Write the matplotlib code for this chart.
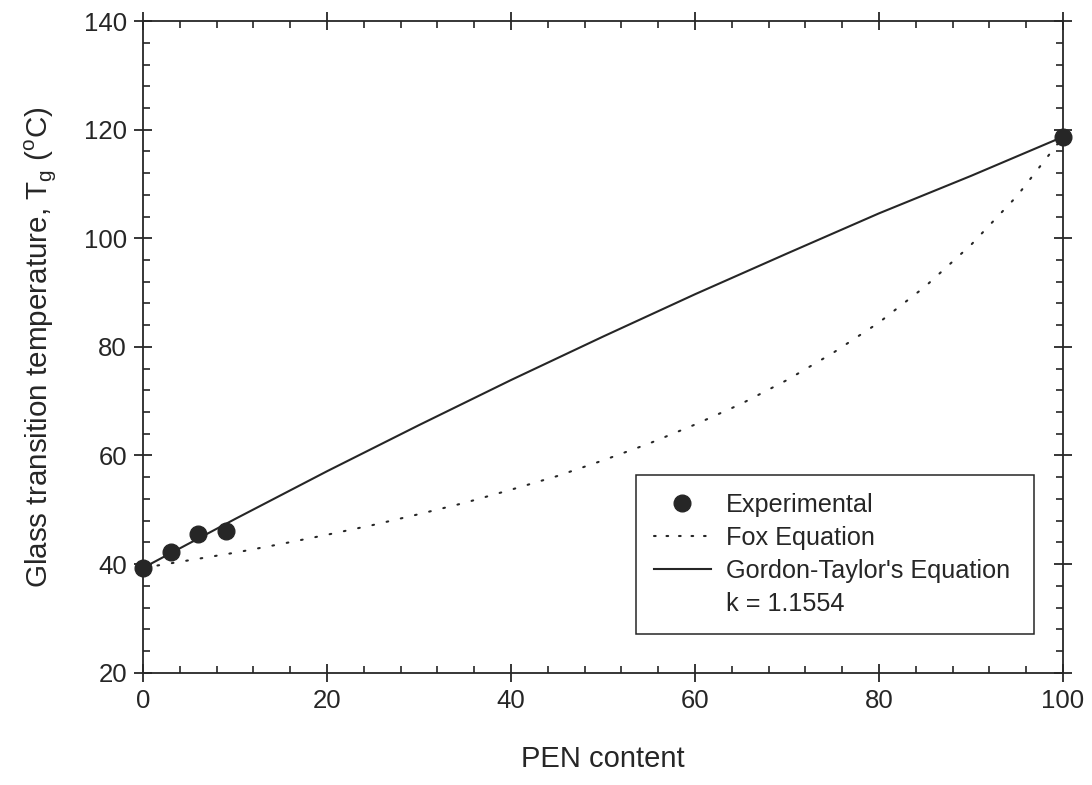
import matplotlib
matplotlib.use("Agg")
import matplotlib.pyplot as plt
from matplotlib.lines import Line2D
from matplotlib.ticker import MultipleLocator

plt.rcParams['font.family'] = ['Liberation Sans', 'DejaVu Sans']

# Experimental points (PEN content, Tg in degC)
exp_x = [0, 3, 6, 9, 100]
exp_y = [39.3, 42.3, 45.6, 46.1, 118.7]

# Gordon-Taylor curve
gt_x = [0, 10, 20, 30, 40, 50, 60, 70, 80, 90, 100]
gt_y = [39.3, 48.3, 57.1, 65.6, 73.9, 81.9, 89.7, 97.2, 104.6, 111.5, 118.7]

# Fox equation curve
fox_x = [0, 5, 10, 15, 20, 25, 30, 35, 40, 45, 50, 55, 60, 65, 70, 75, 80, 85, 90, 95, 100]
fox_y = [39.3, 40.7, 42.1, 43.7, 45.4, 47.2, 49.2, 51.3, 53.7, 56.2, 59.1, 62.2, 65.7,
         69.5, 73.9, 78.9, 84.5, 91.1, 98.8, 107.8, 118.7]

x_ticks = [0, 20, 40, 60, 80, 100]
y_ticks = [20, 40, 60, 80, 100, 120, 140]

ink = '#262626'

fig = plt.figure(figsize=(10.92, 7.85), dpi=100)
ax = fig.add_axes([0.1310, 0.1431, 0.8425, 0.8300])

ax.plot(fox_x, fox_y, color=ink, lw=1.5, linestyle=(0, (0.8, 6.2)),
        dash_capstyle='round', zorder=2)
ax.plot(gt_x, gt_y, color=ink, lw=1.5, zorder=3)
ax.plot(exp_x, exp_y, 'o', color=ink, ms=12, zorder=4, clip_on=False)

ax.set_xlim(0, 100)
ax.set_ylim(20, 140)
ax.set_xticks(x_ticks)
ax.set_yticks(y_ticks)
ax.xaxis.set_minor_locator(MultipleLocator(4))
ax.yaxis.set_minor_locator(MultipleLocator(4))

for sp in ax.spines.values():
    sp.set_linewidth(1.3)
    sp.set_color(ink)

ax.tick_params(which='major', direction='inout', length=13, width=1.3, color=ink,
               labelsize=18.5, labelcolor=ink, top=True, right=True, pad=5)
ax.tick_params(which='minor', direction='in', length=5, width=1.2, color=ink,
               top=True, right=True)

ax.set_xlabel('PEN content', fontsize=21, color=ink, labelpad=23)
ax.set_ylabel(r'Glass transition temperature, T$_\mathregular{g}$ ($^\mathregular{o}$C)',
              fontsize=21.3, color=ink, labelpad=19)

handles = [
    Line2D([], [], ls='none', marker='o', color=ink, ms=12),
    Line2D([], [], color=ink, lw=1.5, linestyle=(0, (0.8, 5.2)), dash_capstyle='round'),
    Line2D([], [], color=ink, lw=1.5),
    Line2D([], [], ls='none'),
]
labels = ['Experimental', 'Fox Equation', "Gordon-Taylor's Equation", 'k = 1.1554']
leg = ax.legend(handles, labels, loc='upper left',
                bbox_to_anchor=(0.536, 0.3034, 0.4325, 0.0), mode='expand',
                fontsize=18.2, frameon=True, fancybox=False, framealpha=1,
                edgecolor=ink, borderpad=0.7, labelspacing=0.36,
                handlelength=2.25, handletextpad=0.6, borderaxespad=0)
leg.get_frame().set_linewidth(1.1)
for t in leg.get_texts():
    t.set_color(ink)

fig.savefig('out.png', dpi=100, facecolor='white')
